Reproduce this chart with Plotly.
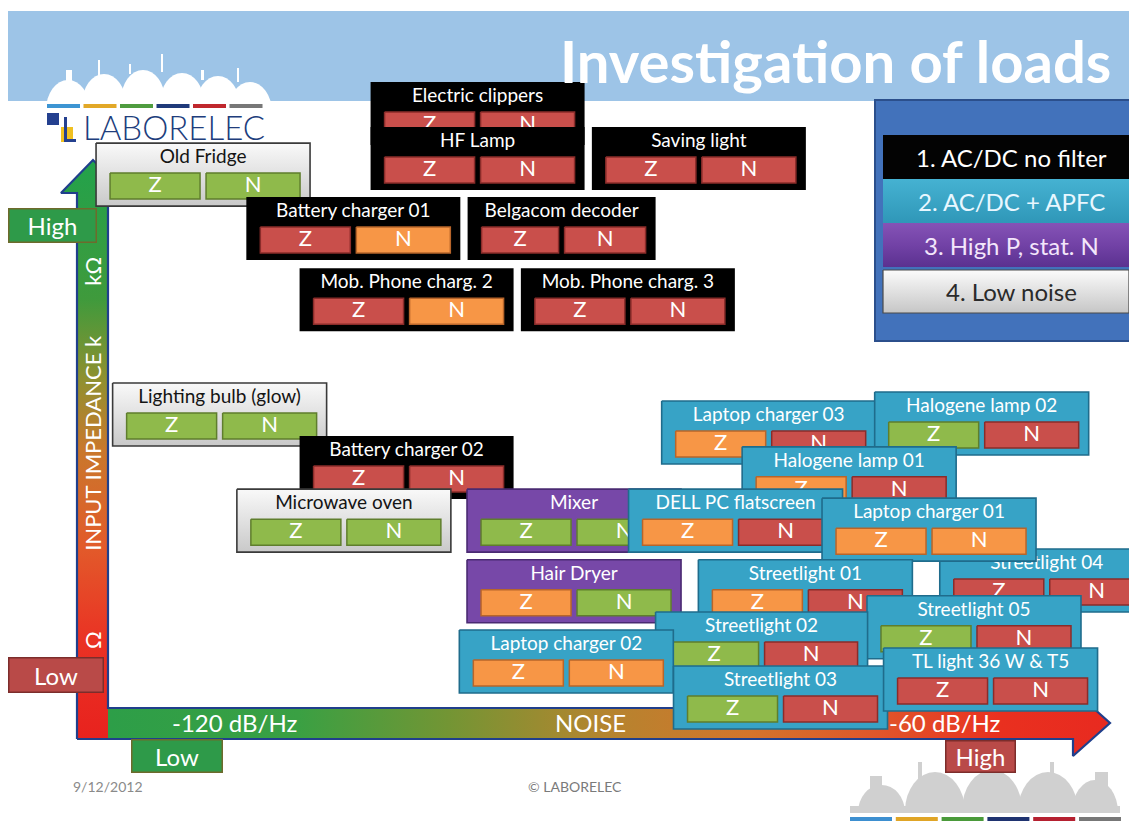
import plotly.graph_objects as go

# ------------------------------------------------------------------ data (listed back to front)
loads = ["Electric clippers", "HF Lamp", "Saving light", "Old Fridge",
         "Battery charger 01", "Belgacom decoder", "Mob. Phone charg. 2",
         "Mob. Phone charg. 3", "Lighting bulb (glow)", "Battery charger 02",
         "Microwave oven", "Mixer", "Laptop charger 03", "Halogene lamp 02",
         "Halogene lamp 01", "DELL PC flatscreen", "Streetlight 04",
         "Laptop charger 01", "Hair Dryer", "Streetlight 01", "Streetlight 05",
         "Streetlight 02", "Laptop charger 02", "Streetlight 03",
         "TL light 36 W & T5"]
# 1 = AC/DC no filter, 2 = AC/DC + APFC, 3 = High P stat. N, 4 = Low noise
load_class = [1, 1, 1, 4, 1, 1, 1, 1, 4, 1, 4, 3, 2, 2, 2, 2, 2, 2, 3, 2, 2, 2, 2, 2, 2]
noise_db = [-99.5, -99.5, -80.8, -122.7, -110.0, -92.4, -105.5, -86.8, -121.3,
            -105.5, -110.8, -91.35, -74.9, -56.9, -68.1, -77.7, -51.4, -61.35,
            -91.35, -71.8, -57.55, -75.5, -92.0, -73.9, -56.15]
impedance_lvl = [12.48, 11.48, 11.48, 11.12, 9.92, 9.92, 8.34, 8.34, 5.79, 4.61,
                 3.43, 3.43, 5.39, 5.59, 4.37, 3.43, 2.10, 3.23, 1.86, 1.86, 1.06,
                 0.70, 0.30, -0.50, -0.10]
z_rating = ["R", "R", "R", "G", "R", "R", "R", "R", "G", "R", "G", "G", "O", "G",
            "O", "O", "R", "O", "O", "O", "G", "G", "O", "G", "R"]
n_rating = ["R", "R", "R", "G", "O", "R", "O", "R", "G", "R", "G", "G", "R", "R",
            "R", "R", "R", "O", "G", "R", "R", "R", "O", "R", "R"]

class_labels = ["1. AC/DC no filter", "2. AC/DC + APFC", "3. High P, stat. N", "4. Low noise"]
noise_labels = ["-120 dB/Hz", "NOISE", "-60 dB/Hz"]
noise_label_db = [-120, -90, -60]
imp_labels = ["kΩ", "INPUT IMPEDANCE k", "Ω"]
imp_label_lvl = [8.96, 5.16, 0.78]
title_text = "Investigation of loads"
footer_date = "9/12/2012"
footer_copy = "© LABORELEC"

# ------------------------------------------------------------------ scales
W, H = 1129, 821
PX_PER_DB = 710 / 60.0
PX_PER_LVL = 45.0


def X(px):
    return -120 + (px - 235) / PX_PER_DB


def Y(py):
    return 10 - (py - 225) / PX_PER_LVL


def PX(db):
    return 235 + (db + 120) * PX_PER_DB


def PY(lvl):
    return 225 - (lvl - 10) * PX_PER_LVL


FONT = "Lato, 'Open Sans', sans-serif"
fig = go.Figure()


def poly(pts, fill, line=None, lw=0, grad=None, mode="lines", dofill=True):
    xs = [X(p[0]) for p in pts] + [X(pts[0][0])]
    ys = [Y(p[1]) for p in pts] + [Y(pts[0][1])]
    kw = dict(x=xs, y=ys, mode=mode, line=dict(color=line or fill, width=lw),
              hoverinfo="skip", showlegend=False)
    if dofill:
        kw.update(fill="toself", fillcolor=fill)
    if grad:
        kw["fillgradient"] = grad
    fig.add_trace(go.Scatter(**kw))


def rect(x0, y0, x1, y1, fill, line=None, lw=0, grad=None):
    poly([(x0, y0), (x1, y0), (x1, y1), (x0, y1)], fill, line, lw, grad)


shapes = []


def srect(x0, y0, x1, y1, color, layer="below"):
    shapes.append(dict(type="rect", xref="x", yref="y", x0=X(x0), x1=X(x1),
                       y0=Y(y0), y1=Y(y1), fillcolor=color, line=dict(width=0),
                       layer=layer))


def sellipse(x0, y0, x1, y1, color):
    shapes.append(dict(type="circle", xref="x", yref="y", x0=X(x0), x1=X(x1),
                       y0=Y(y0), y1=Y(y1), fillcolor=color, line=dict(width=0),
                       layer="below"))


annotations = []


def text(px, py, s, size, color, weight="normal", angle=0, **kw):
    d = dict(x=X(px), y=Y(py), xref="x", yref="y", text=s, showarrow=False,
             textangle=angle, font=dict(family=FONT, size=size, color=color, weight=weight),
             xanchor="center", yanchor="middle")
    d.update(kw)
    annotations.append(d)


# ------------------------------------------------------------------ header
srect(8, 11, 1129, 101, "#9dc4e7")
# white skyline silhouette (soft domes)
for cx, top in [(68, 80), (104, 74), (143, 70), (182, 73), (218, 76), (250, 82)]:
    sellipse(cx - 22, top, cx + 22, top + 60, "white")
for (x0, y0, x1, y1) in [(98, 60, 100, 78), (129, 64, 131, 74), (161, 54, 163, 72),
                         (201, 70, 204, 80), (237, 68, 239, 82), (66, 70, 72, 82)]:
    srect(x0, y0, x1, y1, "white")
srect(8, 101, 1129, 104, "white")
# coloured bars of logo
bar_cols = ["#3d95d3", "#e2a827", "#4f9c3f", "#1f3a7a", "#c0272d", "#777777"]
for k, c in enumerate(bar_cols):
    srect(47 + k * 36.5, 104, 47 + k * 36.5 + 33, 108, c)
# logo mark
srect(47, 113, 59, 125, "#24408f")
srect(61, 127, 73, 142, "#f0c020")
srect(64, 117, 67, 142, "#24408f")
srect(64, 139, 76, 142, "#24408f")
text(174, 127, "LABORELEC", 33, "#203d7c", weight=300)
text(835, 60, title_text, 58, "white", weight="bold")

# ------------------------------------------------------------------ legend
srect(875, 100, 1129, 341, "#4272bb")
shapes.append(dict(type="rect", xref="x", yref="y", x0=X(875), x1=X(1135), y0=Y(100),
                   y1=Y(341), fillcolor="rgba(0,0,0,0)", line=dict(color="#2b4f8c", width=2),
                   layer="below"))
leg_rows = [(135, 179), (179, 223), (223, 267), (270, 313)]
rect(883, 135, 1129, 179, "#030303")
rect(883, 179, 1129, 223, "#3aa6c7",
     grad=dict(type="vertical", colorscale=[[0, "#2f97b8"], [1, "#45b2d2"]]))
rect(883, 223, 1129, 267, "#7444a6",
     grad=dict(type="vertical", colorscale=[[0, "#5b3190"], [0.5, "#7242a6"], [1, "#8553b6"]]))
rect(883, 270, 1129, 313, "#e8e8e8", line="#4a4a4a", lw=1.2,
     grad=dict(type="vertical", colorscale=[[0, "#c6c6c6"], [1, "#fbfbfb"]]))
leg_text_cols = ["#ffffff", "#e8f7ff", "#f3e6fb", "#2a2a2a"]
for k, lab in enumerate(class_labels):
    y0, y1 = leg_rows[k]
    text(1011, (y0 + y1) / 2, lab, 24, leg_text_cols[k])

# ------------------------------------------------------------------ axes (L-shaped arrows)
poly([(77, 739), (77, 193), (61, 193), (93, 160), (125, 193), (108, 193), (108, 739)],
     "#e8201e", grad=dict(type="vertical", start=Y(739), stop=Y(160),
                          colorscale=[[0, "#e8221e"], [0.17, "#ea3224"], [0.33, "#e25a2a"],
                                      [0.5, "#c9782c"], [0.62, "#909030"], [0.76, "#3f9a3c"],
                                      [1, "#22a24b"]]))
poly([(108, 708), (1073, 708), (1073, 690), (1110, 723), (1073, 756), (1073, 739), (108, 739)],
     "#2f9e47", grad=dict(type="horizontal", start=X(108), stop=X(1110),
                          colorscale=[[0, "#2d9e48"], [0.19, "#3aa043"], [0.34, "#739534"],
                                      [0.49, "#b3852f"], [0.64, "#d4742b"], [0.77, "#e0552a"],
                                      [0.89, "#e9301f"], [1, "#e82a20"]]))
poly([(77, 739), (77, 193), (61, 193), (93, 160), (125, 193), (108, 193), (108, 708),
      (1073, 708), (1073, 690), (1110, 723), (1073, 756), (1073, 739)],
     "#203f8c", line="#203f8c", lw=2.2, dofill=False)

# ------------------------------------------------------------------ load boxes
BOX_W, BOX_H = 214, 63
width_override = {"Belgacom decoder": 188, "Streetlight 02": 212}
class_style = {
    1: dict(fill="#000000", line="#000000", lw=0, title="#ffffff"),
    2: dict(fill="#37a3c6", line="#1f6c8c", lw=1.6, title="#ffffff"),
    3: dict(fill="#7748a8", line="#4a2a72", lw=1.6, title="#ffffff"),
    4: dict(fill="#e6e6e6", line="#3a3a3a", lw=1.6, title="#141414",
            grad=dict(type="vertical", colorscale=[[0, "#c9c9c9"], [1, "#f9f9f9"]])),
}
cell_style = {"R": ("#c94f4b", "#8a2c2a"), "O": ("#f79646", "#b8652a"),
              "G": ("#8fba4b", "#5f7e2d")}

for i, name in enumerate(loads):
    st = class_style[load_class[i]]
    w = width_override.get(name, BOX_W)
    cx, cy = PX(noise_db[i]), PY(impedance_lvl[i])
    l, r = cx - w / 2, cx + w / 2
    t, b = cy - BOX_H / 2, cy + BOX_H / 2
    rect(l, t, r, b, st["fill"], st["line"], st["lw"], st.get("grad"))
    zl, zr = l + 14, cx - 3
    nl, nr = cx + 3, r - 10
    ry0, ry1 = t + 30, t + 56
    zc, nc = cell_style[z_rating[i]], cell_style[n_rating[i]]
    rect(zl, ry0, zr, ry1, zc[0], zc[1], 1.5)
    rect(nl, ry0, nr, ry1, nc[0], nc[1], 1.5)
    fig.add_trace(go.Scatter(
        x=[X(cx), X((zl + zr) / 2), X((nl + nr) / 2)],
        y=[Y(t + 15), Y(t + 43.5), Y(t + 43.5)],
        mode="text", text=[name, "Z", "N"], textposition="middle center",
        textfont=dict(family=FONT, size=[19, 22, 22],
                      color=[st["title"], "#ffffff", "#ffffff"]),
        hoverinfo="skip", showlegend=False, cliponaxis=False))

# ------------------------------------------------------------------ axis texts
for s, lv in zip(imp_labels, imp_label_lvl):
    text(93, PY(lv), s, 22, "white", angle=-90)
for s, db in zip(noise_labels, noise_label_db):
    text(PX(db), 722, s, 24, "white")


def label_box(px, py, s, bg, border, w, h):
    text(px, py, s, 24, "white", bgcolor=bg, bordercolor=border, borderwidth=1.5,
         borderpad=1, width=w, height=h)


label_box(52, 225, "High", "#2e9a49", "#6e6a2c", 84, 30)
label_box(56, 675, "Low", "#b94a48", "#7c2d2b", 91, 31)
label_box(177, 756, "Low", "#2e9a49", "#6e6a2c", 87, 29)
label_box(980, 756, "High", "#b94a48", "#7c2d2b", 66, 28)

# ------------------------------------------------------------------ footer
text(108, 786, footer_date, 14, "#8a8a8a")
text(575, 786, footer_copy, 14, "#7a7a7a")
for (x0, y0, x1, y1) in [(858, 785, 905, 840), (905, 772, 965, 850), (962, 770, 1022, 850),
                         (1018, 772, 1078, 850), (1072, 780, 1118, 845)]:
    sellipse(x0, y0, x1, y1, "#d0d0d0")
for (x0, y0, x1, y1) in [(918, 762, 922, 780), (990, 758, 994, 775), (1050, 762, 1054, 778),
                         (870, 776, 882, 790), (1095, 772, 1108, 786)]:
    srect(x0, y0, x1, y1, "#d0d0d0")
srect(850, 806, 1120, 813, "#d0d0d0")
srect(850, 813, 1129, 821, "white")
for k, c in enumerate(["#3d8fd0", "#e0a526", "#4a9a3a", "#1f3370", "#b52030", "#777777"]):
    srect(850 + k * 45.8, 817, 850 + k * 45.8 + 42, 821, c)

fig.update_layout(
    width=W, height=H, margin=dict(l=0, r=0, t=0, b=0),
    paper_bgcolor="white", plot_bgcolor="white", showlegend=False, hovermode=False,
    xaxis=dict(range=[X(0), X(W)], visible=False, fixedrange=True),
    yaxis=dict(range=[Y(H), Y(0)], visible=False, fixedrange=True),
    shapes=shapes, annotations=annotations,
)
fig.write_html("out.html", config={"displayModeBar": False},
               post_script="document.body.style.margin='0';document.body.style.overflow='hidden';")
